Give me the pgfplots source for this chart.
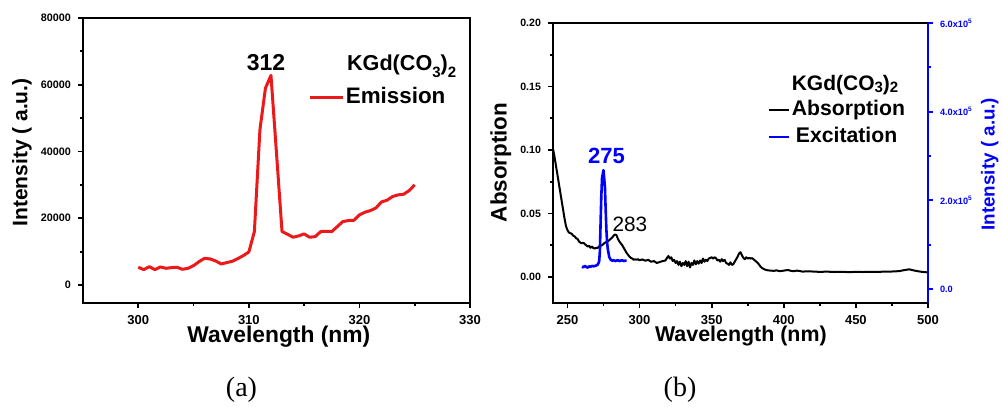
\documentclass[border=0pt]{standalone}
\usepackage{fontspec}
\setmainfont{Liberation Sans}
\newfontfamily\timesfont{Liberation Serif}
\usepackage{pgfplots}
\pgfplotsset{compat=1.18}
\definecolor{myred}{RGB}{235,25,25}
\definecolor{myblue}{RGB}{0,0,255}

\pgfplotstableread{
x y
300 5300
300.5 4600
301 5500
301.5 4600
302 5400
302.5 5000
303 5200
303.5 5300
304 4700
304.5 5000
305 5800
305.5 7000
306 8000
306.5 7800
307 7200
307.5 6300
308 6700
308.5 7100
309 7900
309.5 8800
310 9900
310.5 16000
311 46500
311.5 59000
312 62800
312.5 39500
313 16000
313.5 15200
314 14300
314.5 14700
315 15300
315.5 14300
316 14500
316.5 16000
317 16100
317.5 16000
318 17500
318.5 19000
319 19300
319.5 19400
320 21000
320.5 21800
321 22300
321.5 23100
322 24900
322.5 25400
323 26500
323.5 27000
324 27200
324.5 28300
325 30000
}\emission

\pgfplotstableread{
x y
240 0.101
241 0.095
242 0.088
243 0.081
244 0.074
245 0.067
246 0.060
247 0.053
248 0.046
249 0.040
250 0.037
251 0.035
252 0.0345
253 0.034
254 0.0325
255 0.032
256 0.0305
257 0.030
258 0.028
259 0.027
260 0.0265
261 0.027
262 0.026
263 0.025
264 0.024
265 0.0245
266 0.023
267 0.024
268 0.0228
269 0.0225
270 0.0228
271 0.023
272 0.024
273 0.0245
274 0.025
275 0.026
276 0.027
277 0.0275
278 0.028
279 0.029
280 0.030
281 0.031
282 0.0325
283 0.0335
284 0.033
285 0.030
286 0.028
287 0.0265
288 0.025
289 0.023
290 0.021
291 0.019
292 0.0175
293 0.016
294 0.015
295 0.0145
296 0.0135
297 0.014
298 0.0135
299 0.014
300 0.0132
302 0.0138
304 0.0128
306 0.0135
308 0.012
310 0.0125
312 0.011
314 0.0118
316 0.0125
318 0.013
319 0.015
320 0.0165
321 0.0145
322 0.0155
323 0.0125
324 0.0135
325 0.011
326 0.0125
327 0.0095
328 0.012
329 0.0085
330 0.011
331 0.0095
332 0.0125
333 0.0085
334 0.012
335 0.0075
336 0.011
337 0.0095
338 0.013
339 0.010
340 0.0125
341 0.0105
342 0.013
343 0.011
344 0.0145
345 0.012
346 0.0135
347 0.0125
348 0.0145
349 0.015
350 0.0155
351 0.0145
352 0.0155
353 0.0148
354 0.013
355 0.0135
356 0.012
357 0.014
358 0.0125
359 0.0135
360 0.011
361 0.0105
362 0.0095
363 0.0115
364 0.0095
365 0.010
366 0.012
367 0.014
368 0.016
369 0.0185
370 0.0195
371 0.017
372 0.015
373 0.014
374 0.0155
375 0.0145
376 0.015
377 0.0145
378 0.0148
379 0.014
380 0.013
381 0.012
382 0.011
383 0.0095
384 0.008
385 0.007
387 0.0058
389 0.0052
391 0.005
393 0.0048
395 0.0052
397 0.0046
399 0.0048
401 0.0052
403 0.0055
405 0.0048
407 0.0045
409 0.005
411 0.0047
413 0.0042
415 0.0044
420 0.0043
425 0.0040
430 0.0042
435 0.0039
440 0.0041
445 0.0038
450 0.0040
455 0.0039
460 0.0041
465 0.0040
470 0.0042
475 0.0043
480 0.0046
484 0.0055
487 0.006
490 0.0052
493 0.0045
496 0.004
500 0.0036
}\absorption

\pgfplotstableread{
x y
260 50000
261 49000
262 52000
263 50000
264 48000
265 51000
266 50000
267 52000
268 51000
269 52000
270 53000
271 55000
272 62000
272.5 85000
273 150000
273.5 210000
274 250000
275 268000
276 230000
276.5 180000
277 135000
277.5 105000
278 90000
279 72000
280 66000
281 64000
282 65000
283 63000
284 64000
285 65000
286 63000
287 64000
288 65000
289 63000
290 64000
291 64000
}\excitation

\pgfplotsset{
  common/.style={
    scale only axis,
    anchor=south west,
    tick align=outside,
    major tick length=2.5pt,
    minor tick length=1.5pt,
    every tick/.style={line width=0.9pt},
    axis line style={line width=1.2pt},
    scaled ticks=false,
    every axis plot/.append style={line join=round, mark=none},
  }
}

\begin{document}
\begin{tikzpicture}
\path[use as bounding box] (0,0) rectangle (501pt,203.5pt);

% ---------------- panel (a)
\begin{axis}[common,
  at={(41.5pt,52pt)}, width=193.5pt, height=142.5pt,
  xmin=295, xmax=330, ymin=-5400, ymax=80000,
  tick pos=left,
  xtick={300,310,320,330}, xticklabels={300,310,320,330},
  minor xtick={305,315,325},
  ytick={0,20000,40000,60000,80000}, yticklabels={0,20000,40000,60000,80000},
  minor ytick={10000,30000,50000,70000},
  xticklabel style={font=\fontsize{6.5}{7}\selectfont\bfseries},
  yticklabel style={font=\fontsize{5.4}{6}\selectfont\bfseries},
  xlabel={Wavelength (nm)},
  xlabel style={font=\fontsize{11.4}{12}\selectfont\bfseries, at={(axis description cs:0.506,-0.119)}, anchor=center},
  ylabel={Intensity ( a.u.)},
  ylabel style={font=\fontsize{10.5}{11}\selectfont\bfseries, at={(axis description cs:-0.158,0.528)}, anchor=center},
  legend image code/.code={\draw[#1] (0pt,0pt) -- (16.5pt,0pt);},
  legend style={draw=none, fill=none, at={(axis description cs:0.582,0.722)}, anchor=west,
    font=\fontsize{11.2}{12}\selectfont\bfseries, inner sep=0pt, nodes={inner sep=0.6pt}},
]
\addplot[myred, line width=1.5pt] table[x=x,y=y] {\emission};
\addlegendentry{Emission}
\node[font=\fontsize{11.5}{12}\selectfont\bfseries] at (axis cs:311.56,66500) {312};
\node[font=\fontsize{10.8}{12}\selectfont\bfseries, anchor=base west, inner sep=0pt] at (axis cs:318.85,64400)
  {KGd(CO\raisebox{-3.5pt}{\fontsize{7.5}{9}\selectfont 3})\raisebox{-3.5pt}{\fontsize{7.5}{9}\selectfont 2}};
\end{axis}

% ---------------- panel (b), left axis
\begin{axis}[common,
  at={(276.5pt,52pt)}, width=187.5pt, height=140pt,
  xmin=240, xmax=500, ymin=-0.0205, ymax=0.2,
  axis line style={draw=none},
  clip=false,
  tick pos=left,
  xtick={250,300,350,400,450,500}, xticklabels={250,300,350,400,450,500},
  minor xtick={275,325,375,425,475},
  ytick={0,0.05,0.1,0.15,0.2}, yticklabels={0.00,0.05,0.10,0.15,0.20},
  minor ytick={0.025,0.075,0.125,0.175},
  xticklabel style={font=\fontsize{6.5}{7}\selectfont\bfseries},
  yticklabel style={font=\fontsize{5.3}{6}\selectfont\bfseries},
  xlabel={Wavelength (nm)},
  xlabel style={font=\fontsize{10.7}{11}\selectfont\bfseries, at={(axis description cs:0.501,-0.118)}, anchor=center},
  ylabel={Absorption},
  ylabel style={font=\fontsize{11.2}{12}\selectfont\bfseries, at={(axis description cs:-0.139,0.502)}, anchor=center},
  legend image code/.code={\draw[#1] (0pt,0pt) -- (10pt,0pt);},
  legend style={draw=none, fill=none, at={(axis description cs:0.571,0.641)}, anchor=west,
    font=\fontsize{10.6}{11}\selectfont\bfseries, inner sep=0pt, row sep=2pt,
    nodes={inner sep=0.8pt, text height=7.7pt, text depth=2.2pt}},
  legend cell align=left,
]
\addplot[black, line width=1pt] table[x=x,y=y] {\absorption};
\addlegendentry{Absorption}
\addlegendimage{draw=myblue, line width=1.4pt}
\addlegendentry{\hspace{2pt}Excitation}
\draw[black, line width=1.2pt, line cap=rect] (rel axis cs:1,1) -- (rel axis cs:0,1) -- (rel axis cs:0,0) -- (rel axis cs:1,0);
\node[font=\fontsize{10.5}{11}\selectfont\bfseries, anchor=base west, inner sep=0pt] at (axis cs:405.3,0.1467)
  {KGd(CO\raisebox{-0.8pt}{\fontsize{7.5}{8}\selectfont 3})\raisebox{-0.8pt}{\fontsize{7.5}{8}\selectfont 2}};
\node[font=\fontsize{11}{12}\selectfont\bfseries, text=myblue] at (axis cs:277.1,0.0953) {275};
\node[font=\fontsize{10.4}{11}\selectfont] at (axis cs:293.3,0.0417) {283};
\end{axis}

% ---------------- panel (b), right axis
\begin{axis}[common,
  at={(276.5pt,52pt)}, width=187.5pt, height=140pt,
  xmin=240, xmax=500, ymin=-31600, ymax=600000,
  hide x axis,
  ytick pos=right,
  axis line style={draw=none},
  clip=false,
  every tick/.style={draw=myblue, line width=0.9pt},
  ytick={0,200000,400000,600000},
  yticklabels={0.0, 2.0x10\textsuperscript{5}, 4.0x10\textsuperscript{5}, 6.0x10\textsuperscript{5}},
  minor ytick={100000,300000,500000},
  yticklabel style={text=myblue, font=\fontsize{4.6}{5}\selectfont\bfseries},
  ylabel={Intensity ( a.u.)},
  ylabel style={text=myblue, font=\fontsize{9.4}{10}\selectfont\bfseries, at={(axis description cs:1.165,0.496)}, anchor=center},
]
\addplot[myblue, line width=1.3pt] table[x=x,y=y] {\excitation};
\draw[draw=myblue, line width=1.4pt] (rel axis cs:1,0) -- (rel axis cs:1,1);
\end{axis}

\node[font=\timesfont\fontsize{14}{15}\selectfont] at (120.75pt,8.5pt) {(a)};
\node[font=\timesfont\fontsize{14}{15}\selectfont] at (340pt,8.5pt) {(b)};
\end{tikzpicture}
\end{document}
